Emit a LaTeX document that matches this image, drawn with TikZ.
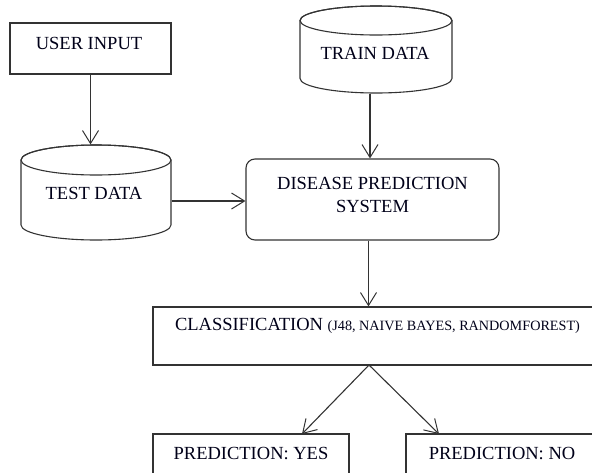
\documentclass[tikz,border=0pt]{standalone}
\usepackage{fontspec}
\setmainfont{Liberation Serif}
\usetikzlibrary{arrows.meta}
\begin{document}
\begin{tikzpicture}[x=1pt,y=1pt,
  line width=1.1pt,
  ln/.style={draw=black!80},
  arr/.style={ln,-{Straight Barb[length=13pt,width=16pt,line width=1pt]}},
  txt/.style={font=\fontsize{18.5}{22}\selectfont, inner sep=0pt, align=center, text=black!90!blue},
  box/.style={ln, fill=white, rectangle, inner sep=0pt},
  hold/.style={rectangle, inner sep=0pt, draw=none}
]
\useasboundingbox (0,0) rectangle (592,-472);
\clip (0,0) rectangle (592,-472);

% USER INPUT
\node[box, minimum width=161, minimum height=51] (user) at (90.5,-48.5) {};
\node[txt] (usert) at (89,-43) {USER INPUT};

% TEST DATA cylinder
\node[hold, minimum width=150, minimum height=95] (test) at (96,-192.5) {};
\draw[ln, fill=white] (21,-160) -- (21,-225) arc[start angle=180, end angle=360, x radius=75, y radius=15] -- (171,-160) arc[start angle=0, end angle=180, x radius=75, y radius=15] -- cycle;
\draw[ln] (96,-160) ellipse [x radius=75, y radius=15];
\node[txt] (testt) at (94,-193) {TEST DATA};

% TRAIN DATA cylinder
\node[hold, minimum width=152, minimum height=87] (train) at (376,-49.5) {};
\draw[ln, fill=white] (300,-20.5) -- (300,-78.5) arc[start angle=180, end angle=360, x radius=76, y radius=14.5] -- (452,-20.5) arc[start angle=0, end angle=180, x radius=76, y radius=14.5] -- cycle;
\draw[ln] (376,-20.5) ellipse [x radius=76, y radius=14.5];
\node[txt] (traint) at (375,-53) {TRAIN DATA};

% DISEASE PREDICTION SYSTEM
\node[box, rounded corners=9pt, minimum width=253, minimum height=81] (dps) at (372.5,-199.5) {};
\node[txt] (dpst) at (372.5,-194.5) {DISEASE PREDICTION\\[1pt]SYSTEM};

% CLASSIFICATION
\node[box, minimum width=449, minimum height=58] (cls) at (377.5,-336) {};
\node[txt] (clst) at (377.5,-326) {CLASSIFICATION {\fontsize{14.2}{16}\selectfont(J48, NAIVE BAYES, RANDOMFOREST)}};

% PREDICTIONS
\node[box, minimum width=196, minimum height=60] (yes) at (251,-464) {};
\node[txt] (yest) at (251,-453) {PREDICTION: YES};
\node[box, minimum width=192, minimum height=60] (no) at (502,-464) {};
\node[txt] (not) at (502,-453) {PREDICTION: NO};

% connectors
\draw[arr] (user.south) -- (user.south |- test.north);
\draw[arr] ([xshift=-6pt]train.south) -- ([xshift=-6pt]train.south |- dps.north);
\draw[arr] (test.east |- 0,-201) -- (dps.west |- 0,-201);
\draw[arr] ([xshift=-4pt]dps.south) -- ([xshift=-4pt]dps.south |- cls.north);
\coordinate (csplit) at (369,-365);
\draw[arr] (csplit) -- (302,-434);
\draw[arr] (csplit) -- (439,-434);
\end{tikzpicture}
\end{document}
